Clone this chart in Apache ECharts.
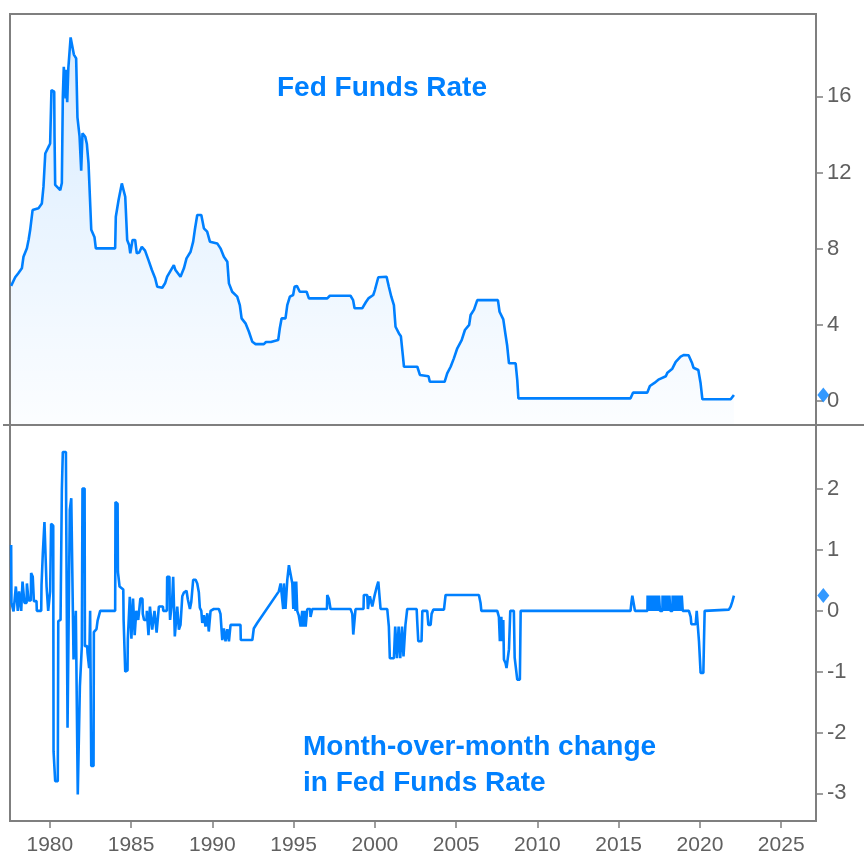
<!DOCTYPE html>
<html>
<head>
<meta charset="utf-8">
<script src="https://cdn.jsdelivr.net/npm/echarts@6/dist/echarts.min.js"></script>
<style>
html,body{margin:0;padding:0;background:#fff;}
#chart{width:864px;height:856px;}
</style>
</head>
<body>
<div id="chart"></div>
<script>
// ---- data ----
const xTicks = [1980, 1985, 1990, 1995, 2000, 2005, 2010, 2015, 2020, 2025];
const rateTicks = [0, 4, 8, 12, 16];
const changeTicks = [-3, -2, -1, 0, 1, 2];

const rateTitle = 'Fed Funds Rate';
const changeTitle = 'Month-over-month change\nin Fed Funds Rate';

// Fed Funds Rate, [year, percent]
const rateData = [
[1977.62,6.05],[1977.70,6.10],[1977.87,6.50],[1978.05,6.70],[1978.28,6.97],[1978.38,7.58],[1978.59,8.02],[1978.70,8.50],[1978.79,8.98],[1978.94,10.03],
[1979.30,10.12],[1979.51,10.38],[1979.61,11.26],[1979.72,13.00],[1979.95,13.40],[1980.02,13.53],[1980.10,16.33],[1980.27,16.25],[1980.29,13.90],[1980.33,11.35],
[1980.64,11.08],[1980.74,11.45],[1980.80,15.98],[1980.86,17.56],[1980.95,17.56],[1980.97,15.90],[1981.00,17.40],[1981.04,17.50],[1981.07,15.70],[1981.11,15.60],
[1981.14,17.50],[1981.24,17.60],[1981.28,19.10],[1981.40,19.00],[1981.48,18.20],[1981.62,18.00],[1981.70,14.90],[1981.83,13.90],[1981.93,12.10],[1982.01,14.06],
[1982.18,13.88],[1982.28,13.50],[1982.38,12.50],[1982.55,9.00],[1982.65,8.80],[1982.75,8.60],[1982.83,8.02],[1984.02,8.02],[1984.06,9.68],[1984.23,10.56],
[1984.43,11.43],[1984.50,11.50],[1984.64,10.73],[1984.76,8.46],[1984.88,8.20],[1984.95,7.76],[1985.09,8.46],[1985.25,8.46],[1985.35,7.76],[1985.50,7.80],
[1985.66,8.10],[1985.86,7.90],[1986.07,7.40],[1986.28,6.88],[1986.48,6.45],[1986.61,6.00],[1986.92,5.95],[1987.10,6.20],[1987.22,6.53],[1987.40,6.80],
[1987.63,7.14],[1987.73,6.88],[1987.83,6.97],[1988.04,6.53],[1988.25,6.97],[1988.41,7.49],[1988.66,7.84],[1988.82,8.37],[1988.92,8.98],[1989.07,9.77],
[1989.32,9.77],[1989.48,9.07],[1989.68,8.90],[1989.85,8.37],[1990.30,8.28],[1990.50,8.02],[1990.71,7.58],[1990.92,7.32],[1991.02,6.18],[1991.22,5.74],
[1991.53,5.48],[1991.69,5.04],[1991.80,4.34],[1992.04,4.08],[1992.25,3.64],[1992.46,3.11],[1992.66,2.99],[1993.17,2.99],[1993.30,3.10],[1993.60,3.10],
[1993.70,3.20],[1994.05,3.20],[1994.15,3.82],[1994.26,4.34],[1994.50,4.34],[1994.61,5.04],[1994.77,5.48],[1994.97,5.57],[1995.06,6.00],[1995.20,6.05],
[1995.38,5.74],[1995.80,5.74],[1995.94,5.39],[1997.07,5.39],[1997.23,5.53],[1998.50,5.53],[1998.66,5.30],[1998.75,4.87],[1999.22,4.87],[1999.45,5.20],
[1999.60,5.39],[1999.90,5.57],[2000.00,5.83],[2000.21,6.50],[2000.72,6.53],[2000.86,6.00],[2001.01,5.48],[2001.17,5.04],[2001.27,3.90],[2001.48,3.55],
[2001.60,3.40],[2001.72,2.40],[2001.79,1.80],[2002.61,1.80],[2002.77,1.37],[2003.30,1.30],[2003.38,1.01],[2004.29,1.01],[2004.45,1.45],[2004.66,1.80],
[2004.86,2.24],[2005.07,2.77],[2005.34,3.20],[2005.54,3.73],[2005.80,4.00],[2005.89,4.52],[2006.10,4.80],[2006.30,5.30],[2007.57,5.30],[2007.67,4.69],
[2007.90,4.29],[2008.04,3.47],[2008.14,2.90],[2008.25,1.98],[2008.66,1.98],[2008.76,1.10],[2008.83,0.14],[2015.73,0.14],[2015.88,0.44],[2016.76,0.44],
[2016.92,0.79],[2017.20,0.95],[2017.48,1.14],[2017.90,1.30],[2018.00,1.49],[2018.30,1.70],[2018.51,2.06],[2018.81,2.33],[2019.02,2.42],[2019.30,2.40],
[2019.52,1.98],[2019.60,1.75],[2019.90,1.63],[2020.04,0.93],[2020.15,0.09],[2021.89,0.09],[2022.09,0.32]
];

// Month-over-month change, [year, percentage points]
const changeData = [
[1977.62,1.08],[1977.64,0.13],[1977.75,0.13],[1977.77,-0.01],[1977.89,-0.01],[1977.91,0.40],[1978.01,0.40],[1978.03,0.00],[1978.09,0.00],[1978.11,0.32],
[1978.22,0.32],[1978.24,0.00],[1978.30,0.00],[1978.32,0.48],[1978.42,0.48],[1978.44,0.13],[1978.57,0.13],[1978.59,0.45],[1978.67,0.45],[1978.69,0.17],
[1978.83,0.17],[1978.85,0.62],[1978.95,0.56],[1979.00,0.56],[1979.02,0.16],[1979.18,0.16],[1979.20,0.00],[1979.47,0.00],[1979.49,0.42],[1979.55,0.42],
[1979.57,0.95],[1979.65,0.95],[1979.67,1.46],[1979.78,1.46],[1979.80,0.40],[1979.88,0.40],[1979.90,0.00],[1980.00,0.00],[1980.02,0.32],[1980.06,0.32],
[1980.08,1.43],[1980.21,1.40],[1980.23,-2.31],[1980.31,-2.31],[1980.33,-2.80],[1980.49,-2.80],[1980.52,-0.17],[1980.66,-0.15],[1980.68,0.40],[1980.72,0.40],
[1980.74,1.98],[1980.78,1.98],[1980.80,2.61],[1980.99,2.61],[1981.01,1.50],[1981.07,1.50],[1981.09,-1.92],[1981.21,-1.92],[1981.23,1.66],[1981.30,1.66],
[1981.32,1.85],[1981.44,1.85],[1981.46,-0.80],[1981.58,-0.80],[1981.60,0.00],[1981.70,0.00],[1981.72,-3.02],[1981.83,-3.02],[1981.85,-1.24],[1981.95,-1.24],
[1981.97,-0.58],[1981.99,-0.58],[1982.01,2.01],[1982.14,2.01],[1982.16,-0.58],[1982.30,-0.58],[1982.32,-0.69],[1982.40,-0.69],[1982.42,-0.94],[1982.46,-0.94],
[1982.48,0.00],[1982.53,0.00],[1982.55,-2.55],[1982.69,-2.55],[1982.71,-0.35],[1982.87,-0.30],[1982.94,-0.16],[1983.06,-0.16],[1983.10,0.00],[1984.02,0.00],
[1984.04,1.79],[1984.17,1.76],[1984.19,0.64],[1984.27,0.64],[1984.29,0.40],[1984.52,0.35],[1984.54,-0.15],[1984.62,-0.15],[1984.64,-1.00],[1984.78,-0.98],
[1984.80,-0.46],[1984.90,-0.46],[1984.92,0.23],[1985.00,0.23],[1985.02,-0.46],[1985.10,-0.46],[1985.12,0.20],[1985.20,0.20],[1985.22,-0.40],[1985.30,-0.40],
[1985.32,0.00],[1985.42,0.00],[1985.44,-0.15],[1985.55,-0.15],[1985.57,0.20],[1985.70,0.20],[1985.72,-0.05],[1985.80,-0.15],[1985.95,-0.15],[1985.97,0.00],
[1986.05,0.00],[1986.07,-0.40],[1986.14,-0.40],[1986.16,0.07],[1986.28,0.07],[1986.30,-0.31],[1986.42,-0.31],[1986.44,0.00],[1986.55,0.00],[1986.57,-0.36],
[1986.69,-0.36],[1986.71,0.07],[1986.96,0.07],[1986.98,0.00],[1987.20,0.00],[1987.22,0.56],[1987.36,0.56],[1987.38,0.00],[1987.40,-0.15],[1987.51,-0.15],
[1987.53,0.19],[1987.57,0.19],[1987.59,0.56],[1987.67,0.56],[1987.69,-0.42],[1987.80,-0.42],[1987.84,0.07],[1987.92,0.07],[1987.94,-0.31],[1988.04,-0.23],
[1988.13,-0.23],[1988.15,0.24],[1988.25,0.30],[1988.41,0.33],[1988.47,0.33],[1988.49,0.19],[1988.60,0.19],[1988.62,0.03],[1988.68,0.03],[1988.70,0.14],
[1988.80,0.14],[1988.82,0.51],[1988.97,0.51],[1989.07,0.45],[1989.17,0.30],[1989.23,0.05],[1989.32,0.00],[1989.36,0.00],[1989.38,-0.20],[1989.46,-0.20],
[1989.48,-0.07],[1989.56,-0.07],[1989.58,-0.26],[1989.67,-0.26],[1989.69,-0.04],[1989.76,-0.04],[1989.78,-0.34],[1989.87,-0.34],[1989.89,0.00],[1990.09,0.03],
[1990.40,0.03],[1990.50,-0.05],[1990.59,-0.05],[1990.61,-0.48],[1990.69,-0.48],[1990.71,-0.29],[1990.79,-0.29],[1990.81,-0.50],[1990.90,-0.50],[1990.92,-0.30],
[1991.00,-0.30],[1991.02,-0.50],[1991.10,-0.50],[1991.12,-0.23],[1991.73,-0.23],[1991.75,-0.48],[1992.46,-0.48],[1992.55,-0.29],[1992.76,-0.20],[1994.09,0.32],
[1994.20,0.45],[1994.30,0.48],[1994.34,0.48],[1994.36,0.03],[1994.38,0.03],[1994.40,0.45],[1994.48,0.45],[1994.50,0.03],[1994.59,0.03],[1994.61,0.51],
[1994.69,0.51],[1994.71,0.75],[1994.81,0.73],[1994.92,0.45],[1994.96,0.45],[1994.98,0.03],[1995.00,0.03],[1995.02,0.48],[1995.10,0.48],[1995.12,0.00],
[1995.14,0.00],[1995.16,0.48],[1995.20,0.48],[1995.22,0.00],[1995.32,-0.08],[1995.41,-0.08],[1995.43,-0.26],[1995.51,-0.26],[1995.53,0.00],[1995.57,0.00],
[1995.59,-0.26],[1995.65,-0.26],[1995.67,0.00],[1995.72,0.00],[1995.74,-0.26],[1995.82,-0.26],[1995.84,0.03],[1996.02,0.03],[1996.04,-0.10],[1996.13,-0.10],
[1996.15,0.03],[1997.05,0.03],[1997.07,0.26],[1997.17,0.20],[1997.25,0.20],[1997.27,0.03],[1998.50,0.03],[1998.61,-0.05],[1998.65,-0.05],[1998.67,-0.39],
[1998.77,-0.39],[1998.81,0.03],[1999.30,0.03],[1999.32,0.26],[1999.53,0.26],[1999.57,0.03],[1999.67,0.03],[1999.69,0.24],[1999.80,0.24],[1999.84,0.07],
[1999.96,0.07],[1999.98,0.25],[2000.10,0.38],[2000.19,0.38],[2000.21,0.48],[2000.31,0.48],[2000.35,0.03],[2000.76,0.03],[2000.86,-0.26],[2000.90,-0.26],
[2000.92,-0.78],[2001.17,-0.78],[2001.25,-0.26],[2001.29,-0.26],[2001.36,-0.78],[2001.42,-0.78],[2001.46,-0.26],[2001.50,-0.26],[2001.56,-0.78],[2001.62,-0.78],
[2001.67,-0.26],[2001.71,-0.26],[2001.76,-0.75],[2001.82,-0.75],[2001.88,-0.23],[2001.92,-0.23],[2001.99,0.03],[2002.57,0.03],[2002.61,-0.20],[2002.65,-0.20],
[2002.67,-0.50],[2002.87,-0.50],[2002.92,0.00],[2003.22,0.00],[2003.29,-0.23],[2003.43,-0.23],[2003.49,-0.05],[2003.60,0.02],[2004.25,0.02],[2004.35,0.26],
[2006.40,0.26],[2006.50,0.13],[2006.55,0.00],[2007.53,0.00],[2007.63,-0.10],[2007.67,-0.10],[2007.69,-0.50],[2007.76,-0.50],[2007.78,-0.10],[2007.82,-0.10],
[2007.84,-0.50],[2007.88,-0.50],[2007.90,-0.15],[2007.92,-0.15],[2007.94,-0.80],[2008.04,-0.86],[2008.10,-0.94],[2008.21,-0.94],[2008.25,-0.63],[2008.33,0.00],
[2008.55,0.00],[2008.60,-0.77],[2008.72,-0.80],[2008.76,-1.13],[2008.92,-1.13],[2008.97,0.00],[2015.73,0.00],[2015.78,0.13],[2015.84,0.25],[2015.94,0.25],
[2016.00,0.00],[2016.77,0.00],[2016.78,0.25],[2016.83,0.25],[2016.84,0.00],[2016.91,0.00],[2016.92,0.25],[2016.97,0.25],[2016.98,0.00],[2017.05,0.00],
[2017.06,0.25],[2017.11,0.25],[2017.12,0.00],[2017.19,0.00],[2017.20,0.25],[2017.25,0.25],[2017.26,0.00],[2017.33,0.00],[2017.34,0.25],[2017.39,0.25],
[2017.40,0.00],[2017.47,0.00],[2017.48,0.25],[2017.53,0.25],[2017.54,0.00],[2017.69,0.00],[2017.70,0.25],[2017.75,0.25],[2017.76,0.00],[2017.83,0.00],
[2017.84,0.25],[2017.89,0.25],[2017.90,0.00],[2017.97,0.00],[2017.98,0.25],[2018.03,0.25],[2018.04,0.00],[2018.11,0.00],[2018.12,0.25],[2018.17,0.25],
[2018.18,0.00],[2018.31,0.00],[2018.32,0.25],[2018.37,0.25],[2018.38,0.00],[2018.45,0.00],[2018.46,0.25],[2018.51,0.25],[2018.52,0.00],[2018.59,0.00],
[2018.60,0.25],[2018.65,0.25],[2018.66,0.00],[2018.73,0.00],[2018.74,0.25],[2018.79,0.25],[2018.80,0.00],[2018.87,0.00],[2018.88,0.25],[2018.93,0.25],
[2018.94,0.00],[2019.32,0.00],[2019.43,-0.10],[2019.47,-0.22],[2019.74,-0.22],[2019.80,0.00],[2019.88,0.00],[2019.94,-0.50],[2020.02,-0.50],[2020.04,-1.02],
[2020.21,-1.02],[2020.25,-0.48],[2020.29,0.00],[2020.35,0.02],[2021.78,0.02],[2021.89,0.07],[2021.99,0.15],[2022.09,0.25]
];

// ---- chart ----
const X_MIN = 1977.55, X_MAX = 2027.14;
const BLUE = '#0080ff';
const AXIS_GRAY = '#7f7f7f';
const LABEL_GRAY = '#606060';
const LABEL_FONT = '"Liberation Sans", Arial, sans-serif';
const TITLE_FONT = '"Liberation Sans", Arial, sans-serif';

const lastRate = rateData[rateData.length - 1][1];
const lastChange = changeData[changeData.length - 1][1];

const chart = echarts.init(document.getElementById('chart'), null, {renderer: 'canvas'});

function plain(v) { return String(v); }

function yAxisFor(gridIndex, min, max, ticks) {
  return {
    type: 'value', gridIndex: gridIndex, position: 'right', min: min, max: max,
    axisLine: {show: true, onZero: false, lineStyle: {color: AXIS_GRAY, width: 2}},
    axisTick: {show: true, length: 7, customValues: ticks, lineStyle: {color: AXIS_GRAY, width: 1.5}},
    axisLabel: {show: true, customValues: ticks, margin: 11, color: LABEL_GRAY,
      fontFamily: LABEL_FONT, fontSize: 22, formatter: plain},
    splitLine: {show: false}
  };
}

const option = {
  animation: false,
  backgroundColor: '#ffffff',
  title: [
    {text: rateTitle, left: 277, top: 72, padding: 0,
     textStyle: {color: BLUE, fontFamily: TITLE_FONT, fontWeight: 'bold', fontSize: 28, lineHeight: 32}},
    {text: changeTitle, left: 303, top: 729, padding: 0,
     textStyle: {color: BLUE, fontFamily: TITLE_FONT, fontWeight: 'bold', fontSize: 28, lineHeight: 36.5}}
  ],
  grid: [
    {left: 10, right: 48, top: 14, height: 411, show: true, borderColor: AXIS_GRAY, borderWidth: 2, backgroundColor: 'transparent'},
    {left: 10, right: 48, top: 425, height: 397, show: true, borderColor: AXIS_GRAY, borderWidth: 2, backgroundColor: 'transparent'}
  ],
  xAxis: [
    {type: 'value', gridIndex: 0, min: X_MIN, max: X_MAX, position: 'bottom',
     axisLine: {show: false, onZero: false}, axisTick: {show: false}, axisLabel: {show: false}, splitLine: {show: false}},
    {type: 'value', gridIndex: 1, min: X_MIN, max: X_MAX, position: 'bottom',
     axisLine: {show: false, onZero: false},
     axisTick: {show: true, length: 7, customValues: xTicks, lineStyle: {color: AXIS_GRAY, width: 1.5}},
     axisLabel: {show: true, customValues: xTicks, margin: 14, color: LABEL_GRAY,
       fontFamily: LABEL_FONT, fontSize: 21, formatter: plain},
     splitLine: {show: false}}
  ],
  yAxis: [
    yAxisFor(0, -1.26, 20.33, rateTicks),
    yAxisFor(1, -3.454, 3.054, changeTicks)
  ],
  series: [
    {type: 'line', xAxisIndex: 0, yAxisIndex: 0, data: rateData, showSymbol: false, symbol: 'none',
     lineStyle: {color: BLUE, width: 2.6}, itemStyle: {color: BLUE},
     areaStyle: {origin: 'start', color: new echarts.graphic.LinearGradient(0, 0, 0, 1, [
       {offset: 0, color: 'rgba(0,128,255,0.22)'},
       {offset: 1, color: 'rgba(0,128,255,0.02)'}
     ])}},
    {type: 'line', xAxisIndex: 1, yAxisIndex: 1, data: changeData, showSymbol: false, symbol: 'none',
     lineStyle: {color: BLUE, width: 2.6}, itemStyle: {color: BLUE}},
    {type: 'scatter', xAxisIndex: 0, yAxisIndex: 0, clip: false, z: 10,
     data: [[X_MAX + 0.45, lastRate]], symbol: 'diamond', symbolSize: [12, 15], itemStyle: {color: BLUE}},
    {type: 'scatter', xAxisIndex: 1, yAxisIndex: 1, clip: false, z: 10,
     data: [[X_MAX + 0.45, lastChange]], symbol: 'diamond', symbolSize: [12, 15], itemStyle: {color: BLUE}}
  ],
  graphic: [
    {type: 'line', z: 100, shape: {x1: 3, y1: 425, x2: 864, y2: 425},
     style: {stroke: AXIS_GRAY, lineWidth: 2}}
  ]
};
chart.setOption(option);
</script>
</body>
</html>
